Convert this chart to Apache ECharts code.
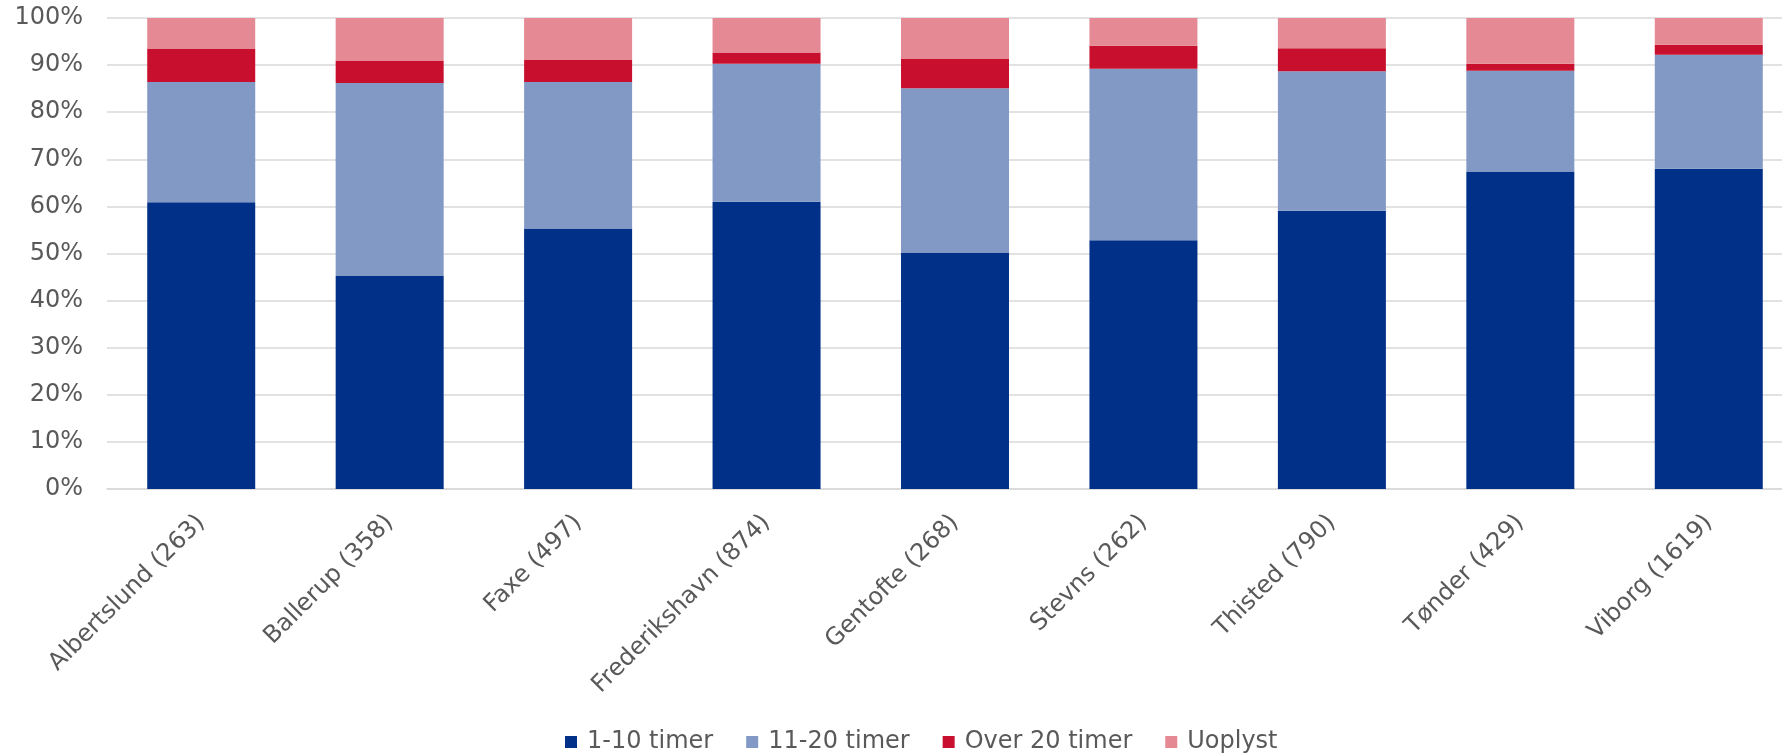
<!DOCTYPE html>
<html>
<head>
<meta charset="utf-8">
<script src="https://cdn.jsdelivr.net/npm/echarts@6/dist/echarts.min.js"></script>
<style>
html,body{margin:0;padding:0;background:#fff;overflow:hidden;}
#chart{width:1803px;height:754px;}
</style>
</head>
<body>
<div id="chart"></div>
<script>
const categories = ['Albertslund (263)','Ballerup (358)','Faxe (497)','Frederikshavn (874)','Gentofte (268)','Stevns (262)','Thisted (790)','Tønder (429)','Viborg (1619)'];
const seriesNames = ['1-10 timer','11-20 timer','Over 20 timer','Uoplyst'];
const s1_10 = [60.9, 45.2, 55.3, 61.0, 50.2, 52.8, 59.1, 67.4, 68.0];
const s11_20 = [25.5, 41.0, 31.1, 29.3, 34.9, 36.4, 29.6, 21.4, 24.2];
const sOver20 = [7.1, 4.8, 4.7, 2.4, 6.3, 4.9, 4.9, 1.5, 2.1];
const sUoplyst = [6.5, 9.0, 8.9, 7.3, 8.6, 5.9, 6.4, 9.7, 5.7];
const yTicks = [0,10,20,30,40,50,60,70,80,90,100];

const colors = ['#003087','#8199C4','#C8102E','#E58995'];
const dataSets = [s1_10, s11_20, sOver20, sUoplyst];
const font = 'DejaVu Sans';

const chart = echarts.init(document.getElementById('chart'));
chart.setOption({
  animation: false,
  textStyle: {fontFamily: font},
  grid: {left: 107, right: 0, top: 18, bottom: 265, containLabel: false},
  legend: {
    top: 725, left: 560,
    itemWidth: 12, itemHeight: 12, itemGap: 33,
    icon: 'rect',
    textStyle: {fontSize: 24, color: '#595959', fontFamily: font, padding: [0,0,0,5], lineHeight: 24},
    data: seriesNames
  },
  xAxis: {
    type: 'category', data: categories,
    axisLine: {lineStyle: {color: '#D9D9D9', width: 1.5}},
    axisTick: {show: false},
    axisLabel: {rotate: 45, fontSize: 24, color: '#595959', margin: 30, interval: 0, fontFamily: font}
  },
  yAxis: {
    type: 'value', min: 0, max: 100, interval: 10,
    axisLine: {show: false}, axisTick: {show: false},
    splitLine: {lineStyle: {color: '#D9D9D9', width: 1.5}},
    axisLabel: {formatter: v => yTicks.includes(v) ? v + '%' : '', fontSize: 24, color: '#595959', margin: 24, fontFamily: font}
  },
  series: dataSets.map((d, i) => ({
    name: seriesNames[i], type: 'bar', stack: 'total', data: d,
    barWidth: 108,
    itemStyle: {color: colors[i]}
  }))
});
</script>
</body>
</html>
